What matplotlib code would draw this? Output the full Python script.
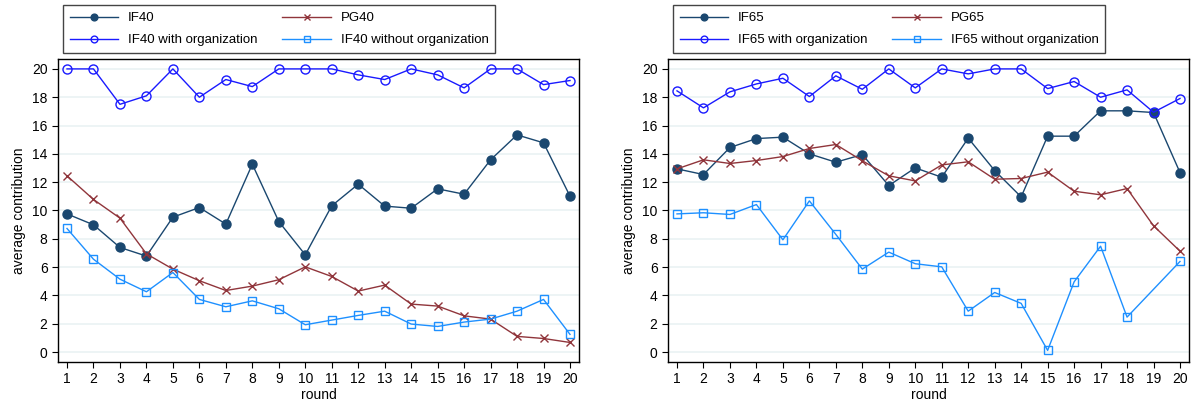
import matplotlib.pyplot as plt
import numpy as np

plt.rcParams['font.family'] = ['Liberation Sans', 'DejaVu Sans']

rounds = np.arange(1, 21)

# left panel (40)
if40 = [9.76, 8.99, 7.39, 6.78, 9.53, 10.21, 9.04, 13.27, 9.22, 6.87,
        10.33, 11.86, 10.31, 10.16, 11.53, 11.15, 13.58, 15.34, 14.78, 11.01]
pg40 = [12.45, 10.78, 9.46, 6.94, 5.86, 5.04, 4.35, 4.66, 5.11, 6.02,
        5.34, 4.31, 4.73, 3.39, 3.25, 2.56, 2.33, 1.11, 0.96, 0.68]
if40_org = [20.0, 20.0, 17.5, 18.1, 20.0, 18.0, 19.25, 18.75, 20.0, 20.0,
            20.0, 19.58, 19.25, 20.0, 19.58, 18.66, 20.0, 20.0, 18.89, 19.18]
if40_noorg = [8.73, 6.56, 5.15, 4.26, 5.62, 3.72, 3.2, 3.62, 3.06, 1.93,
              2.26, 2.59, 2.89, 1.98, 1.81, 2.12, 2.33, 2.89, 3.72, 1.25]

# right panel (65)
if65 = [12.94, 12.54, 14.45, 15.08, 15.18, 14.0, 13.41, 13.95, 11.76, 13.01,
        12.35, 15.11, 12.82, 10.96, 15.25, 15.25, 17.04, 17.04, 16.92, 12.68]
pg65 = [12.94, 13.58, 13.32, 13.53, 13.81, 14.38, 14.66, 13.51, 12.45, 12.09,
        13.22, 13.44, 12.21, 12.26, 12.71, 11.36, 11.11, 11.55, 8.92, 7.13]
if65_org = [18.45, 17.25, 18.38, 18.94, 19.34, 18.05, 19.51, 18.56, 20.0, 18.66,
            20.0, 19.65, 20.0, 20.0, 18.61, 19.11, 18.0, 18.52, 16.94, 17.91]
# no observation in round 19
if65_noorg = [9.76, 9.84, 9.72, 10.42, 7.93, 10.68, 8.31, 5.86, 7.06, 6.24,
              6.02, 2.89, 4.21, 3.44, 0.12, 4.96, 7.48, 2.47, np.nan, 6.4]

navy = '#1a476f'
maroon = '#90353b'
blue = '#1a1aff'
ltblue = '#1e90ff'

fig = plt.figure(figsize=(11.93, 4.05), dpi=100)
ax1 = fig.add_axes([58/1193, 1-362/405, 521/1193, 303/405])
ax2 = fig.add_axes([668/1193, 1-362/405, 521/1193, 303/405])


def draw(ax, tag, a, b, c, d, legend_x):
    a, b, c, d = (np.array(v, dtype=float) for v in (a, b, c, d))
    ax.plot(rounds, a, color=navy, marker='o', ms=6.5, lw=1, label=tag)
    ax.plot(rounds, b, color=maroon, marker='x', ms=6, mew=1, lw=1,
            label=tag.replace('IF', 'PG'))
    ax.plot(rounds, c, color=blue, marker='o', ms=6.5, mfc='none', mew=1, lw=1,
            label=tag + ' with organization')
    ok = ~np.isnan(d)
    ax.plot(rounds[ok], d[ok], color=ltblue, marker='s', ms=6, mfc='none',
            mew=1, lw=1, label=tag + ' without organization')
    ax.set_xlim(0.66, 20.34)
    ax.set_ylim(-0.7, 20.7)
    ax.set_xticks(rounds)
    ax.set_yticks(range(0, 21, 2))
    ax.grid(axis='y', color='#eaf2f3', lw=1.2)
    ax.set_axisbelow(True)
    ax.tick_params(labelsize=10, length=4, width=0.8)
    ax.set_xlabel('round', fontsize=10, labelpad=1)
    ax.set_ylabel('average contribution', fontsize=10)
    for s in ax.spines.values():
        s.set_linewidth(1)
    handles, labels = ax.get_legend_handles_labels()
    order = [0, 2, 1, 3]
    ax.legend([handles[i] for i in order], [labels[i] for i in order], ncol=2,
              loc='lower left', mode='expand', borderaxespad=0,
              bbox_to_anchor=(legend_x/1193, 1-53/405, 432/1193, 49/405),
              bbox_transform=fig.transFigure, fancybox=False, edgecolor='#444444',
              fontsize=9.5, handlelength=3.7, handletextpad=0.7, labelspacing=0.75,
              borderpad=0.5, markerscale=0.75, framealpha=1)


draw(ax1, 'IF40', if40, pg40, if40_org, if40_noorg, 63)
draw(ax2, 'IF65', if65, pg65, if65_org, if65_noorg, 673)

fig.savefig('out.png', dpi=100)
